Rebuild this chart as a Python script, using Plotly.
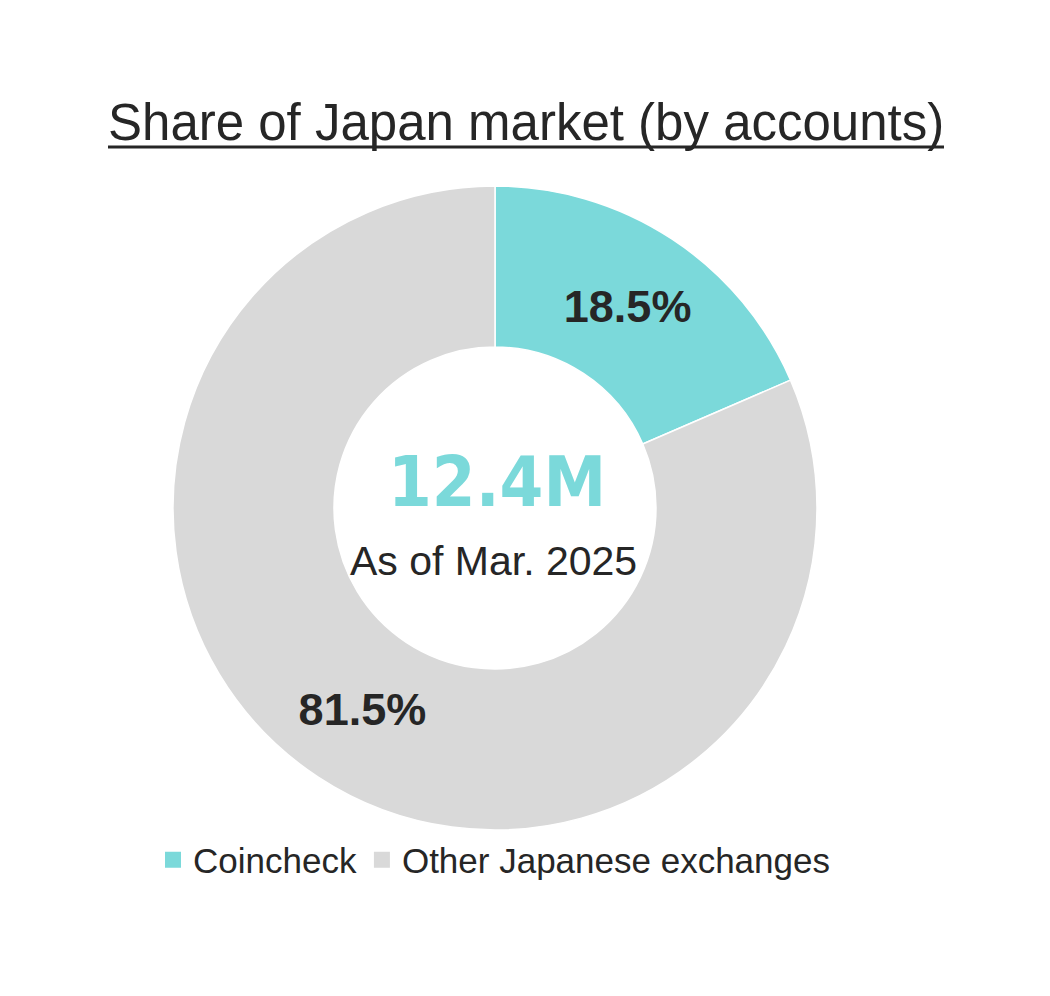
import plotly.graph_objects as go

labels = ["Coincheck", "Other Japanese exchanges"]
shares = [18.5, 81.5]
colors = ["#7BD9DA", "#D9D9D9"]
title_text = "Share of Japan market (by accounts)"
center_value = "12.4M"
center_note = "As of Mar. 2025"

W, H = 1050, 996
OFF = 8  # page body margin in the browser
cx, cy, r = 495 - OFF, 508 - OFF, 322


def px(x):
    return (x - OFF) / W


def py(y):
    return 1 - (y - OFF) / H


fig = go.Figure()
fig.add_trace(go.Pie(
    labels=labels,
    values=shares,
    hole=0.5,
    sort=False,
    direction="clockwise",
    rotation=0,
    marker=dict(colors=colors, line=dict(color="white", width=1.5)),
    texttemplate="%{value:.1f}%",
    textposition="inside",
    insidetextorientation="horizontal",
    textfont=dict(family="Liberation Sans, Arial", size=45, color="#262626", weight="bold"),
    domain=dict(x=[(cx - r) / W, (cx + r) / W], y=[(H - cy - r) / H, (H - cy + r) / H]),
    showlegend=False,
    hoverinfo="label+percent",
))

# legend entries with larger square swatches
for lab, col in zip(labels, colors):
    fig.add_trace(go.Scatter(
        x=[None], y=[None], mode="markers", name=lab,
        marker=dict(symbol="square", size=16, color=col),
        showlegend=True, hoverinfo="skip",
    ))

fig.update_layout(
    width=W, height=H,
    margin=dict(l=0, r=0, t=0, b=0),
    paper_bgcolor="white",
    plot_bgcolor="white",
    xaxis=dict(visible=False),
    yaxis=dict(visible=False),
    uniformtext=dict(minsize=45, mode="show"),
    legend=dict(
        orientation="h", x=px(494), xanchor="center", y=py(860), yanchor="middle",
        font=dict(family="Liberation Sans, Arial", size=35, color="#262626"),
        itemwidth=30, traceorder="normal", bgcolor="rgba(0,0,0,0)",
    ),
    annotations=[
        dict(text=title_text, x=px(526), y=py(123), xref="paper", yref="paper",
             showarrow=False, xanchor="center", yanchor="middle",
             font=dict(family="Liberation Sans, Arial", size=51, color="#262626")),
        dict(text=center_value, x=px(497), y=py(482), xref="paper", yref="paper",
             showarrow=False, xanchor="center", yanchor="middle",
             font=dict(family="DejaVu Sans Condensed", size=70,
                       color="#7BD9DA", weight="bold")),
        dict(text=center_note, x=px(493), y=py(561), xref="paper", yref="paper",
             showarrow=False, xanchor="center", yanchor="middle",
             font=dict(family="Liberation Sans, Arial", size=41, color="#262626")),
    ],
    shapes=[
        dict(type="line", xref="paper", yref="paper", x0=px(108), x1=px(944),
             y0=py(147), y1=py(147), line=dict(color="#262626", width=3)),
    ],
)

fig.write_html("out.html")
